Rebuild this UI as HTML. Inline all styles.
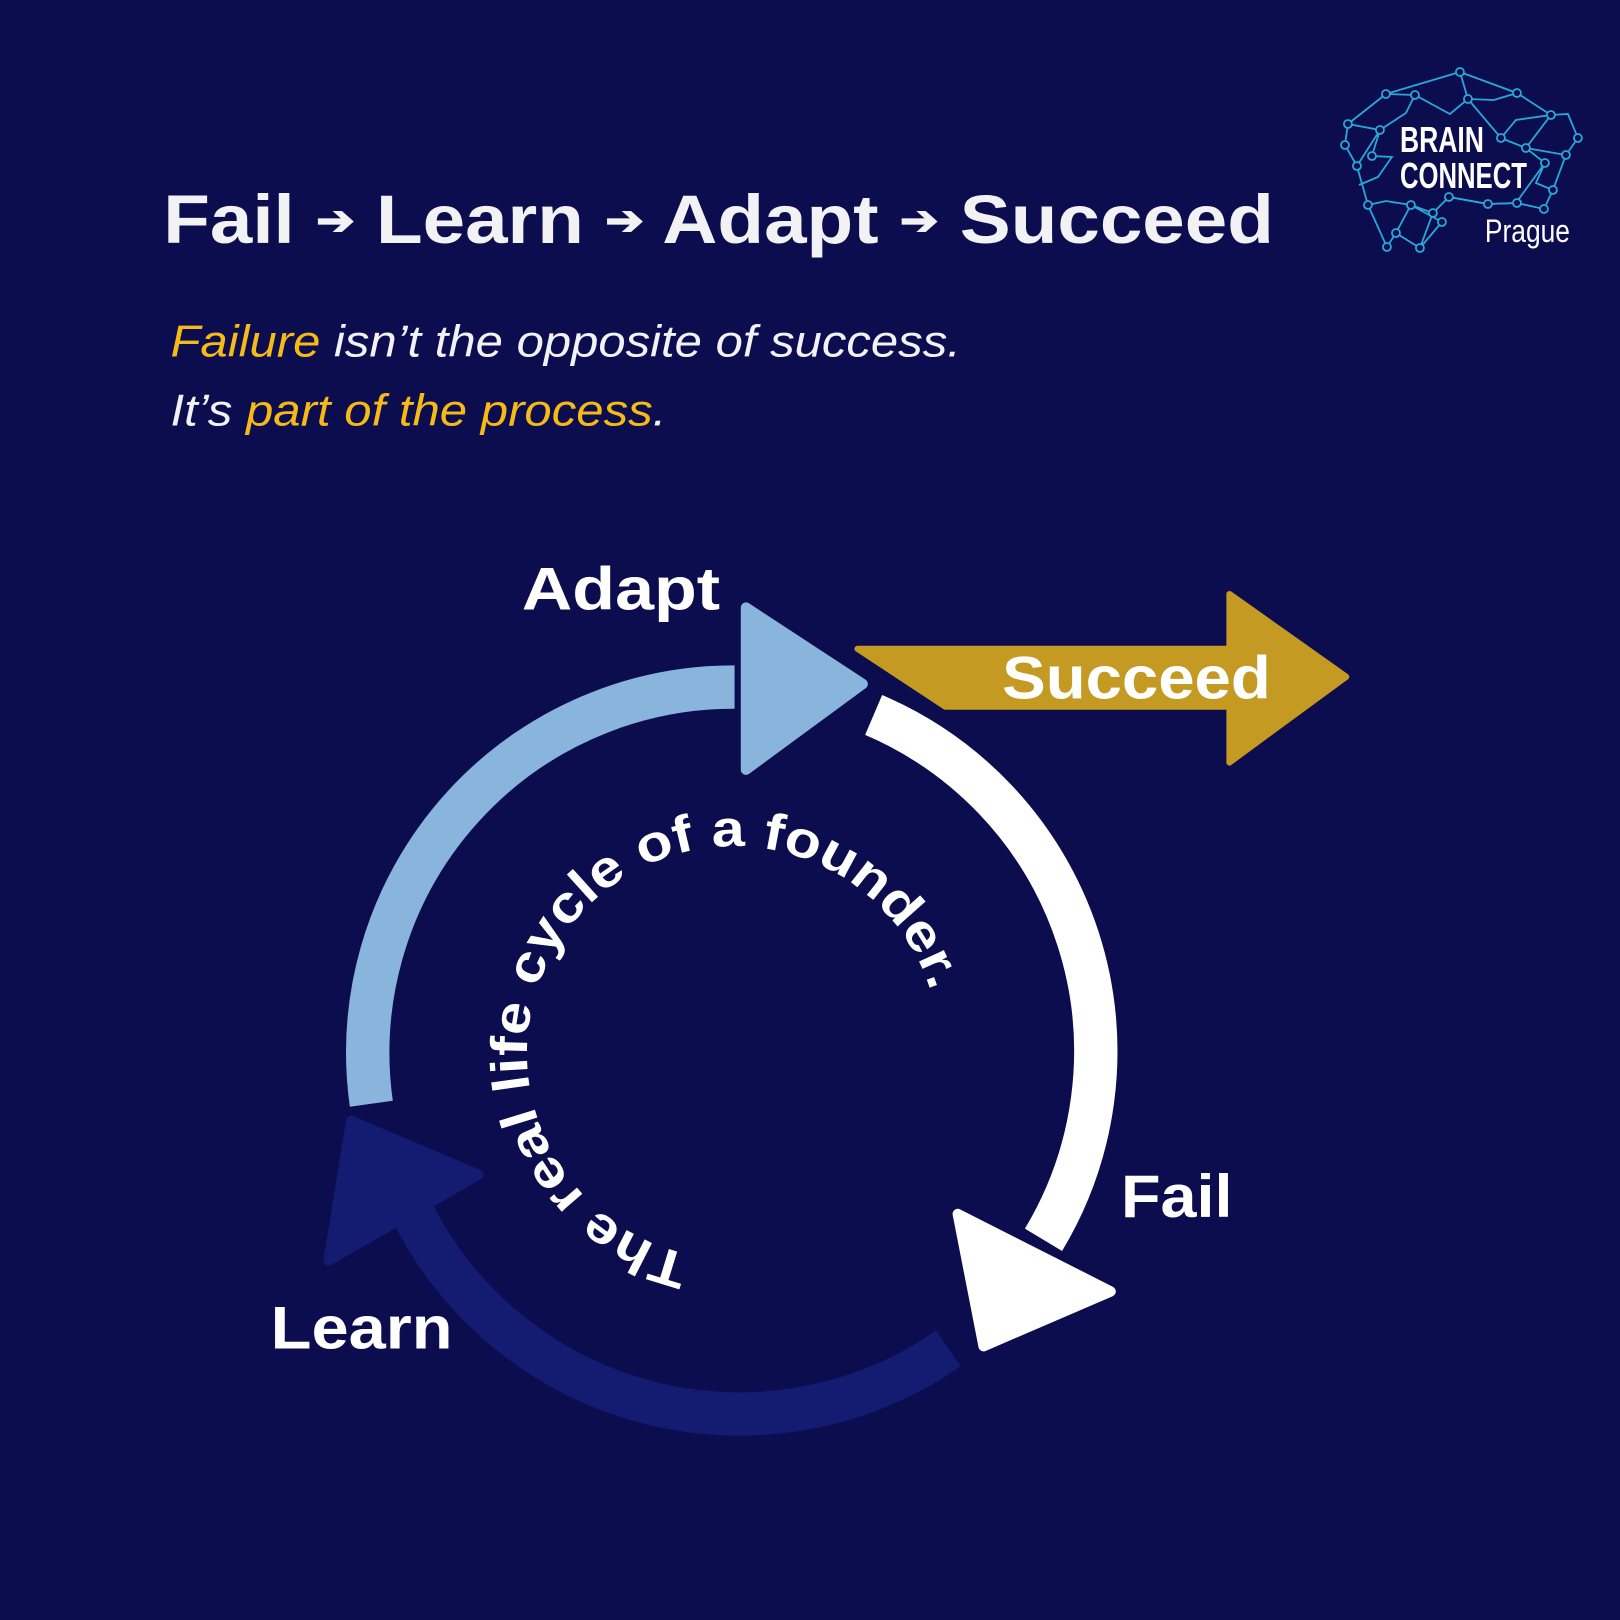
<!DOCTYPE html>
<html><head><meta charset="utf-8"><style>
html,body{margin:0;padding:0;background:#0b0d4e;}
svg{display:block;}
</style></head><body>
<svg width="1620" height="1620" viewBox="0 0 1568 1568" xmlns="http://www.w3.org/2000/svg">
<rect width="1568" height="1568" fill="#0b0d4e"/>
<g font-family="Liberation Sans, sans-serif" fill="#f2f2f5">
<text x="158" y="235" font-size="66" font-weight="bold" textLength="1075" lengthAdjust="spacingAndGlyphs">Fail <tspan font-size="40" dy="-8">➔</tspan><tspan dy="8"> Learn </tspan><tspan font-size="40" dy="-8">➔</tspan><tspan dy="8"> Adapt </tspan><tspan font-size="40" dy="-8">➔</tspan><tspan dy="8"> Succeed</tspan></text>
<text x="165" y="345" font-size="43" font-style="italic" textLength="765" lengthAdjust="spacingAndGlyphs"><tspan fill="#f5b918">Failure</tspan> isn’t the opposite of success.</text>
<text x="165" y="412" font-size="43" font-style="italic" textLength="480" lengthAdjust="spacingAndGlyphs">It’s <tspan fill="#f5b918">part of the process</tspan>.</text>
</g>
<!-- gold succeed arrow -->
<path d="M830,628 L1190,628 L1190,575 L1303,655 L1190,738 L1190,684 L915,684 Z" fill="#c49a22" stroke="#c49a22" stroke-width="6" stroke-linejoin="round"/>
<!-- dark blue arc -->
<path d="M918,1305 A354,354 0 0 1 400,1175" fill="none" stroke="#141c72" stroke-width="42"/>
<path d="M318,1220 L340,1085 L463,1137 Z" fill="#141c72" stroke="#141c72" stroke-width="10" stroke-linejoin="round"/>
<!-- white arc -->
<path d="M845.6,692 A354,354 0 0 1 1010,1200" fill="none" stroke="#ffffff" stroke-width="42"/>
<path d="M927,1175 L1075,1250 L952,1303 Z" fill="#ffffff" stroke="#ffffff" stroke-width="10" stroke-linejoin="round"/>
<!-- light blue arc -->
<path d="M359.4,1068.3 A354,354 0 0 1 725,665.3" fill="none" stroke="#89b4dc" stroke-width="42"/>
<path d="M722,588 L835,662 L722,745 Z" fill="#89b4dc" stroke="#0b0d4e" stroke-width="22" stroke-linejoin="round"/>
<path d="M722,588 L835,662 L722,745 Z" fill="#89b4dc" stroke="#89b4dc" stroke-width="10" stroke-linejoin="round"/>
<!-- labels -->
<g font-family="Liberation Sans, sans-serif" font-weight="bold" fill="#ffffff">
<text x="505" y="590" font-size="58" textLength="192" lengthAdjust="spacingAndGlyphs">Adapt</text>
<text x="970" y="676" font-size="58" textLength="260" lengthAdjust="spacingAndGlyphs">Succeed</text>
<text x="1085" y="1178" font-size="58" textLength="108" lengthAdjust="spacingAndGlyphs">Fail</text>
<text x="262" y="1305" font-size="58" textLength="176" lengthAdjust="spacingAndGlyphs">Learn</text>
</g>
<defs><path id="tp" d="M668.4,1214.6 A200,200 0 1 1 904.9,974"/></defs>
<text font-family="Liberation Sans, sans-serif" font-weight="bold" font-size="50" fill="#ffffff"><textPath href="#tp" textLength="840" lengthAdjust="spacingAndGlyphs">The real life cycle of a founder.</textPath></text>
<!-- logo -->
<g transform="scale(0.96786)" stroke="#2aa7d8" stroke-width="1.8" fill="none">
<polyline points="1348,124 1386,94 1460,72 1517,93 1551,115 1568,114 1578,138 1566,155 1553,190 1544,209 1517,203 1488,204 1449,197 1433,213 1420,248 1396,233 1387,247 1368,205 1357,166 1345,145 1348,124"/>
<polyline points="1386,94 1415,95 1450,114 1468,99 1460,72"/>
<polyline points="1348,124 1380,130 1372,156 1392,157 1378,177 1359,185"/>
<polyline points="1468,99 1501,138 1516,120 1551,115 1526,148 1566,155"/>
<polyline points="1501,138 1526,148 1545,163 1536,183 1553,190"/>
<polyline points="1433,213 1411,205 1386,201 1368,205"/>
<polyline points="1449,197 1488,204 1516,203 1545,163"/>
<polyline points="1415,95 1406,113 1380,130 1357,166"/>
<polyline points="1420,248 1442,222 1411,205 1396,233"/>
<polyline points="1468,99 1494,100 1517,93"/>
<g fill="#0b0d4e">
<circle cx="1348" cy="124" r="4"/><circle cx="1386" cy="94" r="4"/><circle cx="1460" cy="72" r="4"/><circle cx="1517" cy="93" r="4"/><circle cx="1551" cy="115" r="4"/><circle cx="1578" cy="138" r="4"/><circle cx="1566" cy="155" r="4"/><circle cx="1553" cy="190" r="4"/><circle cx="1544" cy="209" r="4"/><circle cx="1517" cy="203" r="4"/><circle cx="1488" cy="204" r="4"/><circle cx="1449" cy="197" r="4"/><circle cx="1433" cy="213" r="4"/><circle cx="1420" cy="248" r="4"/><circle cx="1396" cy="233" r="4"/><circle cx="1387" cy="247" r="4"/><circle cx="1368" cy="205" r="4"/><circle cx="1357" cy="166" r="4"/><circle cx="1345" cy="145" r="4"/><circle cx="1415" cy="95" r="4"/><circle cx="1468" cy="99" r="4"/><circle cx="1501" cy="138" r="4"/><circle cx="1526" cy="148" r="4"/><circle cx="1545" cy="163" r="4"/><circle cx="1411" cy="205" r="4"/><circle cx="1380" cy="130" r="4"/><circle cx="1372" cy="156" r="4"/><circle cx="1442" cy="222" r="4"/>
</g>
</g>
<g transform="scale(0.96786)" font-family="Liberation Sans Narrow, Liberation Sans, sans-serif" font-weight="bold" fill="#ffffff" stroke="none">
<text x="1400" y="152" font-size="36" textLength="84" lengthAdjust="spacingAndGlyphs">BRAIN</text>
<text x="1400" y="188" font-size="36" textLength="127" lengthAdjust="spacingAndGlyphs">CONNECT</text>
<text x="1485" y="242" font-size="32" font-weight="normal" textLength="85" lengthAdjust="spacingAndGlyphs">Prague</text>
</g>
</svg>
</body></html>
